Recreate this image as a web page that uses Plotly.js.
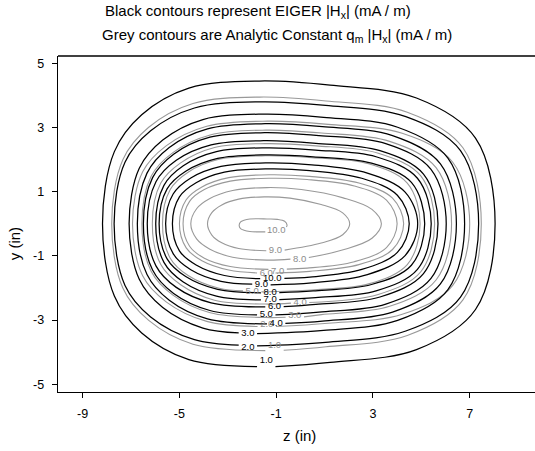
<!DOCTYPE html>
<html>
<head>
<meta charset="utf-8">
<script src="https://cdn.plot.ly/plotly-3.0.1.min.js"></script>
<style>html,body{margin:0;padding:0;background:#fff;}#chart{width:535px;height:451px;}</style>
</head>
<body>
<div id="chart"></div>
<script>
// ---- data ----
const xTickVals = [-9, -5, -1, 3, 7];
const yTickVals = [-5, -3, -1, 1, 3, 5];

// EIGER |Hx| contour levels (black) and their traced paths (z, y in inches)
const eigerLevels = [1, 2, 3, 4, 5, 6, 7, 8, 9, 10];
const eigerZ = [
  [-1.03,1.23,4.80,7.24,8.05,7.24,4.80,1.23,-1.69,-4.61,-6.56,-7.69,-8.18,-7.69,-6.56,-4.61,-1.79],
  [-1.79,1.04,4.36,6.62,7.37,6.62,4.36,1.04,-1.67,-4.38,-6.19,-7.25,-7.70,-7.25,-6.19,-4.38,-2.55],
  [-1.79,0.96,4.02,6.10,6.79,6.10,4.02,0.96,-1.53,-4.03,-5.69,-6.66,-7.08,-6.66,-5.69,-4.03,-2.55],
  [-0.62,0.91,3.81,5.79,6.45,5.79,3.81,0.91,-1.46,-3.84,-5.42,-6.34,-6.74,-6.34,-5.42,-3.84,-1.38],
  [-1.03,0.77,3.53,5.40,6.03,5.40,3.53,0.77,-1.48,-3.74,-5.24,-6.11,-6.49,-6.11,-5.24,-3.74,-1.79],
  [-0.69,0.64,3.29,5.09,5.69,5.09,3.29,0.64,-1.52,-3.69,-5.13,-5.97,-6.33,-5.97,-5.13,-3.69,-1.45],
  [-0.87,0.63,3.13,4.84,5.41,4.84,3.13,0.63,-1.42,-3.47,-4.84,-5.64,-5.98,-5.64,-4.84,-3.47,-1.63],
  [-0.87,0.53,2.94,4.59,5.14,4.59,2.94,0.53,-1.45,-3.42,-4.74,-5.51,-5.84,-5.51,-4.74,-3.42,-1.63],
  [-1.23,0.47,2.77,4.33,4.85,4.33,2.77,0.47,-1.40,-3.28,-4.53,-5.26,-5.57,-5.26,-4.53,-3.28,-1.99],
  [-0.66,0.39,2.54,4.01,4.50,4.01,2.54,0.39,-1.37,-3.14,-4.31,-5.00,-5.29,-5.00,-4.31,-3.14,-1.66]
];
const eigerY = [
  [-4.45,-4.32,-3.92,-2.67,0,2.67,3.92,4.32,4.45,4.23,3.40,2.25,0,-2.25,-3.40,-4.23,-4.45],
  [-3.80,-3.69,-3.34,-2.28,0,2.28,3.34,3.69,3.80,3.61,2.90,1.92,0,-1.92,-2.90,-3.61,-3.78],
  [-3.42,-3.32,-3.01,-2.05,0,2.05,3.01,3.32,3.42,3.25,2.61,1.73,0,-1.73,-2.61,-3.25,-3.40],
  [-3.10,-3.03,-2.75,-1.87,0,1.87,2.75,3.03,3.12,2.96,2.38,1.58,0,-1.58,-2.38,-2.96,-3.12],
  [-2.84,-2.75,-2.50,-1.70,0,1.70,2.50,2.75,2.84,2.70,2.17,1.44,0,-1.44,-2.17,-2.70,-2.84],
  [-2.58,-2.51,-2.28,-1.55,0,1.55,2.28,2.51,2.59,2.46,1.98,1.31,0,-1.31,-1.98,-2.46,-2.59],
  [-2.36,-2.30,-2.09,-1.42,0,1.42,2.09,2.30,2.37,2.25,1.81,1.20,0,-1.20,-1.81,-2.25,-2.37],
  [-2.14,-2.09,-1.89,-1.29,0,1.29,1.89,2.09,2.15,2.04,1.64,1.09,0,-1.09,-1.64,-2.04,-2.15],
  [-1.90,-1.84,-1.58,-0.99,0,0.99,1.58,1.84,1.90,1.79,1.43,0.93,0,-0.93,-1.43,-1.79,-1.88],
  [-1.70,-1.66,-1.42,-0.89,0,0.89,1.42,1.66,1.71,1.61,1.28,0.84,0,-0.84,-1.28,-1.61,-1.71]
];
const eigerLabelZ = [-1.41, -2.17, -2.17, -1.00, -1.41, -1.07, -1.25, -1.25, -1.61, -1.16];
const eigerLabelY = [-4.26, -3.86, -3.42, -3.12, -2.84, -2.58, -2.36, -2.14, -1.90, -1.71];

// Analytic constant q_m |Hx| contour levels (grey) and their traced paths
const analyticLevels = [1, 2, 3, 4, 5, 6, 7, 8, 9, 10];
const analyticZ = [
  [-0.69,1.06,4.42,6.72,7.48,6.72,4.42,1.06,-1.69,-4.44,-6.27,-7.34,-7.80,-7.34,-6.27,-4.44,-1.45],
  [-1.01,1.15,4.21,6.30,7.00,6.30,4.21,1.15,-1.36,-3.87,-5.55,-6.52,-6.94,-6.52,-5.55,-3.87,-1.77],
  [0.15,0.87,3.69,5.61,6.25,5.61,3.69,0.87,-1.43,-3.73,-5.27,-6.17,-6.55,-6.17,-5.27,-3.73,-1.43,-0.61],
  [0.37,3.22,4.97,5.55,4.97,3.22,0.65,-1.45,-3.55,-4.95,-5.77,-6.12,-5.77,-4.95,-3.55,-1.45,-0.39],
  [-1.61,0.48,2.82,4.42,4.95,4.42,2.82,0.48,-1.44,-3.36,-4.64,-5.38,-5.70,-5.38,-4.64,-3.36,-2.37],
  [-1.03,0.38,2.42,3.81,4.27,3.81,2.42,0.38,-1.29,-2.96,-4.07,-4.72,-5.00,-4.72,-4.07,-2.96,-1.79],
  [-0.56,0.28,2.23,3.56,4.00,3.56,2.23,0.28,-1.31,-2.90,-3.97,-4.58,-4.85,-4.58,-3.97,-2.90,-1.32],
  [0.35,1.77,2.96,3.35,2.96,1.77,0.04,-1.38,-2.80,-3.74,-4.29,-4.53,-4.29,-3.74,-2.80,-1.38,-0.41],
  [-0.65,0.86,1.75,2.04,1.75,0.86,-0.43,-1.49,-2.55,-3.25,-3.66,-3.84,-3.66,-3.25,-2.55,-1.41],
  [-0.58,-0.55,-0.65,-0.95,-1.38,-1.74,-2.09,-2.33,-2.47,-2.53,-2.47,-2.33,-2.09,-1.74,-1.45]
];
const analyticY = [
  [-3.94,-3.83,-3.48,-2.37,0,2.37,3.48,3.83,3.95,3.75,3.01,2.00,0,-2.00,-3.01,-3.75,-3.95],
  [-3.20,-3.10,-2.82,-1.92,0,1.92,2.82,3.10,3.20,3.04,2.43,1.62,0,-1.62,-2.43,-3.04,-3.20],
  [-2.90,-2.83,-2.57,-1.75,0,1.75,2.57,2.83,2.92,2.77,2.22,1.48,0,-1.48,-2.22,-2.77,-2.92,-2.91],
  [-2.45,-2.20,-1.50,0,1.50,2.20,2.43,2.50,2.38,1.90,1.27,0,-1.27,-1.90,-2.38,-2.50,-2.47],
  [-2.12,-2.06,-1.87,-1.27,0,1.27,1.87,2.06,2.12,2.01,1.61,1.07,0,-1.07,-1.61,-2.01,-2.09],
  [-1.53,-1.48,-1.27,-0.80,0,0.80,1.27,1.48,1.53,1.44,1.15,0.75,0,-0.75,-1.15,-1.44,-1.53],
  [-1.41,-1.38,-1.18,-0.74,0,0.74,1.18,1.38,1.42,1.33,1.07,0.70,0,-0.70,-1.07,-1.33,-1.42],
  [-1.05,-0.81,-0.45,0,0.45,0.81,1.07,1.13,1.04,0.79,0.47,0,-0.47,-0.79,-1.04,-1.13,-1.10],
  [-0.82,-0.60,-0.34,0,0.34,0.60,0.80,0.84,0.77,0.59,0.35,0,-0.35,-0.59,-0.77,-0.84],
  [-0.10,-0.04,0.08,0.14,0.15,0.16,0.15,0.11,0.06,-0.05,-0.15,-0.20,-0.24,-0.25,-0.25]
];
const analyticLabelZ = [-1.07, -1.39, -0.23, -0.01, -1.99, -1.41, -0.94, -0.03, -1.03, -1.00];
const analyticLabelY = [-3.80, -3.13, -2.86, -2.46, -2.11, -1.54, -1.48, -1.13, -0.84, -0.22];

// ---- styles ----
const FONT = 'Liberation Sans, Arial, sans-serif';
const BLACK = '#000000';
const GREY = '#999999';

const traces = [];
analyticLevels.forEach((lv, i) => {
  traces.push({type: 'scatter', mode: 'lines', x: analyticZ[i], y: analyticY[i],
    line: {color: GREY, width: 1.1, shape: 'spline', smoothing: 1}, hoverinfo: 'skip', name: 'Analytic ' + lv});
});
eigerLevels.forEach((lv, i) => {
  traces.push({type: 'scatter', mode: 'lines', x: eigerZ[i], y: eigerY[i],
    line: {color: BLACK, width: 1.25, shape: 'spline', smoothing: 1}, hoverinfo: 'skip', name: 'EIGER ' + lv});
});
traces.push({type: 'scatter', mode: 'text', x: analyticLabelZ, y: analyticLabelY,
  text: analyticLevels.map(v => v.toFixed(1)), textposition: 'middle center',
  textfont: {family: FONT, size: 9.5, color: '#8c8c8c'}, hoverinfo: 'skip', cliponaxis: false});
traces.push({type: 'scatter', mode: 'text', x: eigerLabelZ, y: eigerLabelY,
  text: eigerLevels.map(v => v.toFixed(1)), textposition: 'middle center',
  textfont: {family: FONT, size: 9.5, color: BLACK}, hoverinfo: 'skip', cliponaxis: false});

const axisCommon = {showgrid: false, zeroline: false, showline: true, linecolor: BLACK, linewidth: 1.3,
  ticks: 'outside', ticklen: 5, tickwidth: 1, tickcolor: BLACK, tickmode: 'array', ticklabelstandoff: 5,
  tickfont: {family: FONT, size: 12.5, color: BLACK}};

const layout = {
  width: 535, height: 451,
  margin: {l: 58, r: 0, t: 56, b: 59, pad: 0},
  paper_bgcolor: '#fff', plot_bgcolor: '#fff',
  showlegend: false,
  xaxis: Object.assign({}, axisCommon, {range: [-10.02, 9.7], tickvals: xTickVals, ticktext: xTickVals.map(String)}),
  yaxis: Object.assign({}, axisCommon, {range: [-5.24, 5.23], tickvals: yTickVals, ticktext: yTickVals.map(String)}),
  shapes: [{type: 'line', xref: 'paper', yref: 'paper', x0: 0, x1: 1, y0: 1, y1: 1, line: {color: BLACK, width: 1.3}}],
  annotations: [
    {xref: 'paper', yref: 'paper', x: 0.094, y: 1.131, xanchor: 'left', yanchor: 'middle', showarrow: false,
     text: 'Black contours represent EIGER |H<sub>x</sub>| (mA / m)', font: {family: FONT, size: 15, color: BLACK}},
    {xref: 'paper', yref: 'paper', x: 0.088, y: 1.06, xanchor: 'left', yanchor: 'middle', showarrow: false,
     text: 'Grey contours are Analytic Constant q<sub>m</sub> |H<sub>x</sub>| (mA / m)', font: {family: FONT, size: 15, color: BLACK}},
    {xref: 'paper', yref: 'paper', x: 0.507, y: -0.13, xanchor: 'center', yanchor: 'middle', showarrow: false,
     text: 'z (in)', font: {family: FONT, size: 15, color: BLACK}},
    {xref: 'paper', yref: 'paper', x: -0.092, y: 0.44, xanchor: 'center', yanchor: 'middle', showarrow: false,
     textangle: -90, text: 'y (in)', font: {family: FONT, size: 15, color: BLACK}}
  ]
};

Plotly.newPlot('chart', traces, layout, {displayModeBar: false, staticPlot: true});
</script>
</body>
</html>
